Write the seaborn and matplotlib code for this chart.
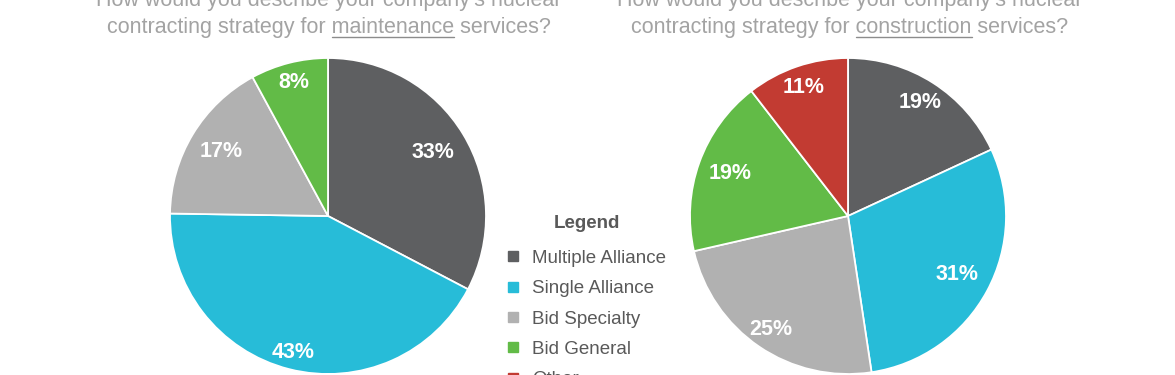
import matplotlib
matplotlib.use("Agg")
import numpy as np
import matplotlib.pyplot as plt
from matplotlib.lines import Line2D
import seaborn as sns

# ---- data ----
categories = ["Multiple Alliance", "Single Alliance", "Bid Specialty", "Bid General", "Other"]
maintenance_values = [33, 43, 17, 8]
construction_values = [19, 31, 25, 19, 11]
maintenance_labels = ["33%", "43%", "17%", "8%"]
construction_labels = ["19%", "31%", "25%", "19%", "11%"]
title_line1 = "How would you describe your company\u2019s nuclear"
title_prefix = "contracting strategy for "
title_words = ["maintenance", "construction"]
title_suffix = " services?"
legend_title = "Legend"

colors = ["#5e5f61", "#27bcd8", "#b1b1b1", "#62bb47", "#c23b32"]

sns.set_theme(style="white")
palette = sns.color_palette(colors)
plt.rcParams["font.family"] = ["Liberation Sans", "DejaVu Sans"]

W, H = 1175, 375
fig = plt.figure(figsize=(W / 100, H / 100), dpi=100)

R = 158
def pie_axes(cx, cy):
    return fig.add_axes([(cx - R) / W, (H - cy - R) / H, 2 * R / W, 2 * R / H])

def draw_pie(ax, values, labels, dists):
    wedges, texts, autotexts = ax.pie(
        values, colors=palette[:len(values)], startangle=90, counterclock=False,
        radius=1, labels=None, autopct=lambda p: "", pctdistance=0.85,
        wedgeprops=dict(edgecolor="white", linewidth=1.3),
    )
    for t, lab, d in zip(autotexts, labels, dists):
        x, y = t.get_position()
        ang = np.arctan2(y, x)
        t.set_position((d * np.cos(ang), d * np.sin(ang)))
        t.set_text(lab)
        t.set_color("white")
        t.set_fontweight("bold")
        t.set_fontsize(15.5)
        t.set_ha("center")
        t.set_va("center")
        t.set_clip_on(False)
    ax.set_xlim(-1, 1)
    ax.set_ylim(-1, 1)
    ax.set_aspect("equal")
    ax.axis("off")

ax1 = pie_axes(328, 216)
draw_pie(ax1, maintenance_values, maintenance_labels, [0.78, 0.89, 0.79, 0.87])
ax2 = pie_axes(848, 216)
draw_pie(ax2, construction_values, construction_labels, [0.85, 0.785, 0.87, 0.79, 0.86])

# ---- titles ----
title_color = "#a3a3a3"
tsize = 15.5
renderer = fig.canvas.get_renderer()
for cx, word in zip([329, 850], title_words):
    fig.text(cx / W, 1 - 6 / H, title_line1, ha="center", va="baseline",
             fontsize=tsize, color=title_color)
    full = title_prefix + word + title_suffix
    t = fig.text(cx / W, 1 - 33 / H, full, ha="center", va="baseline",
                 fontsize=tsize, color=title_color)
    bb = t.get_window_extent(renderer)
    tmp1 = fig.text(0, 0, title_prefix + word, fontsize=tsize)
    tmp2 = fig.text(0, 0, word, fontsize=tsize)
    w1 = tmp1.get_window_extent(renderer).width
    w2 = tmp2.get_window_extent(renderer).width
    tmp1.remove(); tmp2.remove()
    x_end = bb.x0 + w1
    x_start = x_end - w2
    yline = 1 - 37 / H
    fig.add_artist(Line2D([x_start / W, x_end / W], [yline, yline],
                          transform=fig.transFigure, color="#8c8c8c", linewidth=1.0))

# ---- legend ----
fig.text(587 / W, 1 - 228 / H, legend_title, ha="center", va="baseline",
         fontsize=13.5, fontweight="bold", color="#595959")
handles = [Line2D([0], [0], marker="s", linestyle="none", markersize=7,
                  markerfacecolor=c, markeredgecolor=c) for c in palette]
leg = fig.legend(handles, categories, loc="center left",
                 bbox_to_anchor=(487 / W, 1 - 319 / H), frameon=False,
                 fontsize=13.5, labelspacing=0.71, handletextpad=0.5,
                 handlelength=1.0)
for txt in leg.get_texts():
    txt.set_color("#595959")

fig.savefig("out.png", dpi=100)
